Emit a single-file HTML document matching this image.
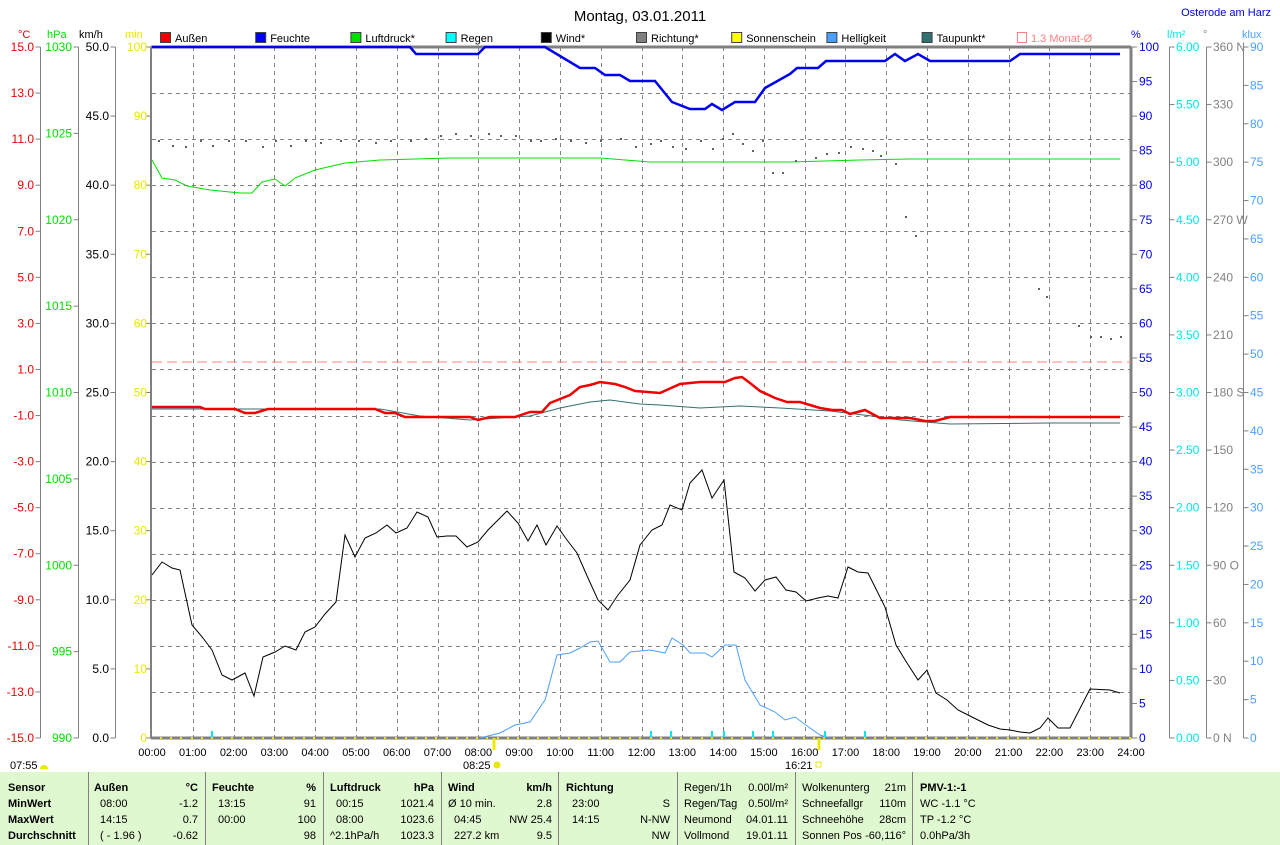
<!DOCTYPE html>
<html><head><meta charset="utf-8">
<style>
html,body{margin:0;padding:0;background:#fff;}
svg{display:block;font-family:"Liberation Sans",sans-serif;}
</style></head>
<body>
<svg id="s" width="1280" height="845" xmlns="http://www.w3.org/2000/svg">
<rect x="0" y="0" width="1280" height="845" fill="#fff"/>
<g id="grid"></g>
<g id="axes"></g>
<line x1="152" y1="362" x2="1131" y2="362" stroke="#ff8080" stroke-dasharray="10,5"/>
<polyline fill="none" stroke="#00e000" stroke-width="1" points="152,160 162,178 175,180 187,186 210,190 240,193 252,193 262,182 275,179 285,186 295,178 315,170 345,163 380,160 450,158 600,158 650,162 790,162 860,160 910,159 1120,159"/>
<polyline fill="none" stroke="#307070" stroke-width="1" points="152,409 380,409 420,416 470,420 530,416 560,408 590,402 610,400 640,404 660,405 700,408 740,406 780,408 830,411 880,417 900,420 950,424 1050,423 1120,423"/>
<polyline fill="none" stroke="#f00000" stroke-width="2.5" points="152,407 200,407 205,409 235,409 245,413 255,413 268,409 375,409 385,413 395,413 405,417 470,417 478,420 490,417 515,417 530,412 542,412 550,403 570,395 580,387 590,385 600,382 615,384 625,387 635,391 660,393 680,384 700,382 725,382 735,378 742,377 750,383 760,391 775,398 787,402 800,402 810,405 820,408 832,410 842,410 850,414 865,410 880,418 910,418 925,421 935,421 950,417 1120,417"/>
<polyline fill="none" stroke="#0000f0" stroke-width="2.5" points="152,47 410,47 416,54 478,54 485,47 545,47 580,68 595,68 605,75 620,75 630,81 655,81 672,102 690,109 705,109 712,104 722,110 735,102 755,102 765,88 790,74 797,68 818,68 826,61 885,61 895,54 905,61 918,54 930,61 1010,61 1020,54 1120,54"/>
<polyline fill="none" stroke="#4aa0ff" stroke-width="1" points="480,738 500,733 515,725 530,722 545,700 557,655 570,653 580,648 590,642 598,641 610,662 620,662 630,652 650,650 665,653 672,638 683,645 690,653 705,653 712,657 725,645 736,645 745,680 760,705 775,712 785,720 795,717 810,728 820,735 830,738"/>
<polyline fill="none" stroke="#000" stroke-width="1" points="152,575 162,562 172,568 180,570 192,625 203,638 212,650 222,675 232,680 245,673 254,696 263,657 275,652 285,646 296,650 305,632 315,627 325,614 336,602 345,535 355,557 365,538 376,533 387,525 396,533 407,528 417,512 428,517 437,537 447,536 456,536 467,547 478,542 488,530 498,520 507,511 518,523 528,541 537,525 546,545 557,526 567,540 577,553 588,578 598,600 608,610 618,595 630,580 640,545 652,530 662,525 670,505 682,510 690,483 702,470 712,498 724,480 734,572 745,578 755,591 765,580 776,577 786,590 796,592 806,601 818,598 828,596 838,598 848,567 858,572 868,573 878,593 885,607 896,645 907,663 918,680 927,670 936,693 947,700 958,710 968,715 978,720 988,725 1000,729 1010,730 1020,732 1030,733 1040,728 1048,718 1058,728 1070,728 1090,689 1110,690 1120,693"/>
<g id="dots" fill="#606060"></g>
<g id="rain" stroke="#00e8e8" stroke-width="2"></g>
<g id="sun" fill="#e8e800"></g>
<line x1="494" y1="738" x2="494" y2="750" stroke="#e8e800" stroke-width="3"/>
<line x1="819" y1="738" x2="819" y2="750" stroke="#e8e800" stroke-width="3"/>
<text x="640" y="21" font-size="15" text-anchor="middle">Montag, 03.01.2011</text>
<text x="1271" y="16" font-size="11" text-anchor="end" fill="#0000f0">Osterode am Harz</text>
<text x="18" y="38" font-size="11" fill="#f00000">°C</text>
<text x="47" y="38" font-size="11" fill="#00e000">hPa</text>
<text x="79" y="38" font-size="11">km/h</text>
<text x="125" y="38" font-size="11" fill="#e8e800">min</text>
<text x="1131" y="38" font-size="11" fill="#0000f0">%</text>
<text x="1167" y="38" font-size="11" fill="#00e8e8">l/m²</text>
<text x="1203" y="38" font-size="11" fill="#808080">°</text>
<text x="1242" y="38" font-size="11" fill="#4aa0ff">klux</text>
<g id="legend" font-size="11"></g>
<g id="xl" font-size="11" text-anchor="middle"></g>
<text x="10" y="769" font-size="11">07:55</text>
<path d="M40,769 a4,4 0 0 1 8,0 z" fill="#e8e800"/>
<text x="463" y="769" font-size="11">08:25</text>
<circle cx="497" cy="765" r="3.5" fill="#e8e800"/>
<text x="785" y="769" font-size="11">16:21</text>
<rect x="816" y="762" width="5" height="5" fill="none" stroke="#e8e800"/>
<rect x="0" y="772" width="1280" height="73" fill="#e0f8d0"/>
<g stroke="#808080" stroke-width="1">
<line x1="88.5" y1="772" x2="88.5" y2="845"/><line x1="205.5" y1="772" x2="205.5" y2="845"/>
<line x1="323.5" y1="772" x2="323.5" y2="845"/><line x1="441.5" y1="772" x2="441.5" y2="845"/>
<line x1="558.5" y1="772" x2="558.5" y2="845"/><line x1="677.5" y1="772" x2="677.5" y2="845"/>
<line x1="795.5" y1="772" x2="795.5" y2="845"/><line x1="912.5" y1="772" x2="912.5" y2="845"/>
</g>
<g font-size="11">
<g font-weight="bold">
<text x="8" y="791">Sensor</text><text x="8" y="807">MinWert</text><text x="8" y="823">MaxWert</text><text x="8" y="839">Durchschnitt</text>
<text x="94" y="791">Außen</text><text x="198" y="791" text-anchor="end">°C</text>
<text x="212" y="791">Feuchte</text><text x="316" y="791" text-anchor="end">%</text>
<text x="330" y="791">Luftdruck</text><text x="434" y="791" text-anchor="end">hPa</text>
<text x="448" y="791">Wind</text><text x="552" y="791" text-anchor="end">km/h</text>
<text x="566" y="791">Richtung</text>
<text x="920" y="791">PMV-1:-1</text>
</g>
<text x="100" y="807">08:00</text><text x="198" y="807" text-anchor="end">-1.2</text>
<text x="100" y="823">14:15</text><text x="198" y="823" text-anchor="end">0.7</text>
<text x="100" y="839">( - 1.96 )</text><text x="198" y="839" text-anchor="end">-0.62</text>
<text x="218" y="807">13:15</text><text x="316" y="807" text-anchor="end">91</text>
<text x="218" y="823">00:00</text><text x="316" y="823" text-anchor="end">100</text>
<text x="316" y="839" text-anchor="end">98</text>
<text x="336" y="807">00:15</text><text x="434" y="807" text-anchor="end">1021.4</text>
<text x="336" y="823">08:00</text><text x="434" y="823" text-anchor="end">1023.6</text>
<text x="330" y="839">^2.1hPa/h</text><text x="434" y="839" text-anchor="end">1023.3</text>
<text x="448" y="807">Ø 10 min.</text><text x="552" y="807" text-anchor="end">2.8</text>
<text x="454" y="823">04:45</text><text x="552" y="823" text-anchor="end">NW 25.4</text>
<text x="454" y="839">227.2 km</text><text x="552" y="839" text-anchor="end">9.5</text>
<text x="572" y="807">23:00</text><text x="670" y="807" text-anchor="end">S</text>
<text x="572" y="823">14:15</text><text x="670" y="823" text-anchor="end">N-NW</text>
<text x="670" y="839" text-anchor="end">NW</text>
<text x="684" y="791">Regen/1h</text><text x="788" y="791" text-anchor="end">0.00l/m²</text>
<text x="684" y="807">Regen/Tag</text><text x="788" y="807" text-anchor="end">0.50l/m²</text>
<text x="684" y="823">Neumond</text><text x="788" y="823" text-anchor="end">04.01.11</text>
<text x="684" y="839">Vollmond</text><text x="788" y="839" text-anchor="end">19.01.11</text>
<text x="802" y="791">Wolkenunterg</text><text x="906" y="791" text-anchor="end">21m</text>
<text x="802" y="807">Schneefallgr</text><text x="906" y="807" text-anchor="end">110m</text>
<text x="802" y="823">Schneehöhe</text><text x="906" y="823" text-anchor="end">28cm</text>
<text x="802" y="839">Sonnen Pos</text><text x="906" y="839" text-anchor="end">-60,116°</text>
<text x="920" y="807">WC -1.1 °C</text>
<text x="920" y="823">TP -1.2 °C</text>
<text x="920" y="839">0.0hPa/3h</text>
</g>
</svg>
<script>
var NS="http://www.w3.org/2000/svg";
function el(p,t,a,txt){var e=document.createElementNS(NS,t);for(var k in a)e.setAttribute(k,a[k]);if(txt!==undefined)e.textContent=txt;document.getElementById(p).appendChild(e);return e;}
var T=47,B=738,L=152,R=1131,H=B-T;
function xh(h){return L+h*(R-L)/24;}
for(var h=1;h<24;h++){var x=Math.round(xh(h))+0.5;el("grid","line",{x1:x,y1:T,x2:x,y2:B,stroke:"#808080","stroke-dasharray":"4,4"});}
for(var i=1;i<15;i++){var y=Math.round(T+i*H/15)+0.5;el("grid","line",{x1:L,y1:y,x2:R,y2:y,stroke:"#808080","stroke-dasharray":"4,4"});}
el("axes","line",{x1:L-1,y1:T,x2:R,y2:T,stroke:"#808080","stroke-width":3});
el("axes","line",{x1:L-1,y1:T,x2:L-1,y2:B,stroke:"#808080","stroke-width":2});
el("axes","line",{x1:R,y1:T,x2:R,y2:B,stroke:"#808080","stroke-width":3});
el("axes","line",{x1:L-1,y1:B,x2:R,y2:B,stroke:"#808080","stroke-width":3});
function axis(x,n,fn,col,side,tickdir){
 el("axes","line",{x1:x+0.5,y1:T,x2:x+0.5,y2:B,stroke:"#808080"});
 for(var i=0;i<=n;i++){var y=T+i*H/n;
  el("axes","line",{x1:x+0.5,y1:y,x2:x+0.5+tickdir*5,y2:y,stroke:"#808080"});
  var lab=fn(i);
  if(side<0) el("axes","text",{x:x-6,y:y+4,"font-size":12,"text-anchor":"end",fill:col},lab);
  else el("axes","text",{x:x+7,y:y+4,"font-size":12,fill:col},lab);
 }}
axis(40,15,function(i){return (15-2*i).toFixed(1);},"#f00000",-1,-1);
axis(78,8,function(i){return ""+(1030-5*i);},"#00e000",-1,-1);
axis(115,10,function(i){return (50-5*i).toFixed(1);},"#000",-1,-1);
for(var i=0;i<=10;i++){var y=T+i*H/10;el("axes","line",{x1:L-6,y1:y,x2:L-1,y2:y,stroke:"#808080"});el("axes","text",{x:L-5,y:y+4,"font-size":12,"text-anchor":"end",fill:"#e8e800"},""+(100-10*i));}
for(var i=0;i<=20;i++){var y=T+i*H/20;el("axes","line",{x1:R,y1:y,x2:R+6,y2:y,stroke:"#808080"});el("axes","text",{x:R+8,y:y+4,"font-size":12,fill:"#0000f0"},""+(100-5*i));}
axis(1169,12,function(i){return (6-0.5*i).toFixed(2);},"#00e8e8",1,1);
var dirs={0:" N",3:" W",6:" S",9:" O",12:" N"};
axis(1206,12,function(i){return (360-30*i)+(dirs[i]||"");},"#808080",1,1);
axis(1243,18,function(i){return ""+(90-5*i);},"#4aa0ff",1,1);
for(var h=0;h<=24;h++){el("xl","text",{x:xh(h),y:756},(h<10?"0":"")+h+":00");}
var lg=[["Außen","#f00000"],["Feuchte","#0000f0"],["Luftdruck*","#00e000"],["Regen","#00ffff"],["Wind*","#000"],["Richtung*","#808080"],["Sonnenschein","#ffff00"],["Helligkeit","#4aa0ff"],["Taupunkt*","#307070"]];
for(var i=0;i<lg.length;i++){var x=160+i*95.2;el("legend","rect",{x:x+0.5,y:32.5,width:10,height:10,fill:lg[i][1],stroke:"#404040"});el("legend","text",{x:x+15,y:42},lg[i][0]);}
el("legend","rect",{x:1017.5,y:32.5,width:9,height:10,fill:"none",stroke:"#ff8080"});
el("legend","text",{x:1031,y:42,fill:"#ff8080"},"1.3 Monat-Ø");
var d=[[158,140],[172,145],[185,146],[200,140],[212,145],[228,140],[245,140],[262,146],[275,140],[290,145],[305,140],[320,142],[340,140],[358,140],[375,142],[390,140],[410,140],[425,138],[440,135],[455,133],[470,135],[488,133],[500,135],[515,135],[530,140],[540,140],[555,138],[570,140],[585,142],[600,140],[620,138],[635,146],[650,143],[660,140],[672,146],[685,148],[700,140],[712,148],[722,138],[732,133],[742,143],[752,150],[762,140],[772,172],[782,172],[795,160],[815,157],[826,153],[838,152],[850,146],[862,148],[872,150],[880,155],[895,163],[905,216],[915,235],[1038,288],[1046,296],[1078,325],[1090,336],[1100,336],[1110,338],[1120,336]];
d.forEach(function(p){el("dots","rect",{x:p[0],y:p[1],width:2,height:2});});
[212,651,671,712,724,753,773,825,865].forEach(function(x){el("rain","line",{x1:x,y1:731,x2:x,y2:737});});
for(var x=160;x<1131;x+=10.2){el("sun","rect",{x:Math.round(x),y:737,width:2,height:2});}
</script>
</body></html>
